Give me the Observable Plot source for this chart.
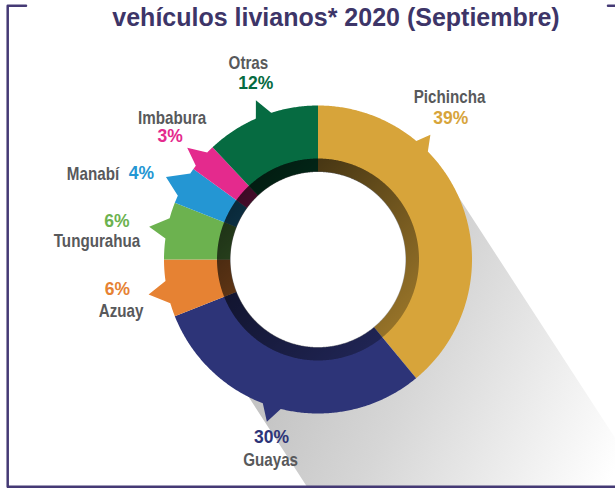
<!DOCTYPE html>
<html><head><meta charset="utf-8">
<script src="https://cdn.jsdelivr.net/npm/d3@7"></script>
<script src="https://cdn.jsdelivr.net/npm/@observablehq/plot@0.6"></script>
<style>html,body{margin:0;padding:0;background:#fff;} svg{display:block}</style>
</head><body><div id="chart"></div>
<script>
// ---- data ----
const provincias = ["Pichincha","Guayas","Azuay","Tungurahua","Manabí","Imbabura","Otras"];
const participacion = [39, 30, 6, 6, 4, 3, 12];
const etiquetasPct = participacion.map(v => v + "%");
const titulo = "vehículos livianos* 2020 (Septiembre)";

// ---- styles / layout ----
const palette = ["#d7a43a","#2d3478","#e68233","#6cb24f","#2496d3","#e42a8d","#066b41"];
const W = 615, H = 488, CX = 317.5, CY = 259, R_OUT = 154, R_IN = 88, R_RING = 101;
const FRAME = "#453a75", GRAY = "#58595b";
// callout pointers (angles clockwise from top, degrees)
const callouts = {
  "Pichincha": {base:[39.7,45.5], tip:[42,168]},
  "Guayas": {base:[194,201], tip:[197.5,170]},
  "Azuay": {base:[253.5,262], tip:[258.3,173]},
  "Tungurahua": {base:[277.8,285.5], tip:[281,172]},
  "Manabí": {base:[294.5,304], tip:[298.5,173]},
  "Imbabura": {base:[307.5,314], tip:[310.5,172]},
  "Otras": {base:[336.2,342.3], tip:[338.7,171]}
};
// label placement (polar: angle, radius) for name and percent
const labelPos = {
  "Pichincha": {name:[39.0,209,"middle"], pct:[43.2,194,"middle"]},
  "Guayas": {name:[193.3,206,"middle"], pct:[194.7,183.5,"middle"]},
  "Azuay": {name:[255.35,203.6,"middle"], pct:[261.6,202.7,"middle"]},
  "Tungurahua": {name:[274.8,221.8,"middle"], pct:[280.8,204.7,"middle"]},
  "Manabí": {name:[293.3,216.5,"end"], pct:[294.4,207.8,"start"]},
  "Imbabura": {name:[314.2,203.5,"middle"], pct:[309.8,192.3,"middle"]},
  "Otras": {name:[340.5,208.5,"middle"], pct:[340.6,187,"middle"]}
};

const rad = d => d * Math.PI / 180;
const P = (a, r) => ({x: CX + r * Math.sin(rad(a)), y: CY - r * Math.cos(rad(a))});
function arc(r, a0, a1) {
  const n = Math.max(2, Math.ceil(Math.abs(a1 - a0) / 0.5));
  return d3.range(n + 1).map(i => P(a0 + (a1 - a0) * i / n, r));
}

// segments from data
let acc = 0;
const segs = provincias.map((p, i) => {
  const a0 = acc * 3.6; acc += participacion[i]; const a1 = acc * 3.6;
  return {p, i, a0, a1};
});
function poly(s) {
  const c = callouts[s.p];
  return [
    ...arc(R_OUT, s.a0, c.base[0]),
    P(c.tip[0], c.tip[1]),
    ...arc(R_OUT, c.base[1], s.a1),
    ...arc(R_IN, s.a1, s.a0)
  ];
}
const ringPts = [...arc(R_RING, 0, 360), ...arc(R_IN - 0.5, 360, 0)];

// long shadow
const SA = 147, NA = SA - 90, L = 460;
const dvec = P(SA, 1); const dx = dvec.x - CX, dy = dvec.y - CY;
const sStart = P(NA, 152), sEnd = P(NA + 180, 133);
const shadowPts = [
  sStart,
  ...arc(125, NA, NA + 180),
  sEnd,
  {x: sEnd.x + L * dx, y: sEnd.y + L * dy},
  {x: sStart.x + L * dx, y: sStart.y + L * dy}
];

const names = segs.map(s => { const l = labelPos[s.p].name; const q = P(l[0], l[1]); return {x:q.x, y:q.y, t:s.p, a:l[2]}; });
const pcts = segs.map(s => { const l = labelPos[s.p].pct; const q = P(l[0], l[1]); return {x:q.x, y:q.y, t:etiquetasPct[s.i], a:l[2], c:palette[s.i]}; });

const frameA = [{x:25.5,y:5.3},{x:7.2,y:5.3},{x:7.2,y:486.3},{x:W,y:486.3}];
const frameB = [{x:607.5,y:5.3},{x:W,y:5.3}];

const SANS = "'Liberation Sans', Arial, Helvetica, sans-serif";

const marks = [
  Plot.line(shadowPts, {x:"x", y:"y", fill:"url(#sombra)", stroke:"none"}),
  ...segs.map(s => Plot.line(poly(s), {x:"x", y:"y", fill: palette[s.i], stroke:"none"})),
  Plot.line(ringPts, {x:"x", y:"y", fill:"url(#anillo)", stroke:"none"}),
  ...["middle","start","end"].map(a => Plot.text(names.filter(d => d.a === a), {x:"x", y:"y", text:"t", fill: GRAY, fontSize:18.5, fontWeight:"bold", fontFamily: SANS, textAnchor:a, lineAnchor:"middle", className:"nombre"})),
  ...["middle","start","end"].map(a => Plot.text(pcts.filter(d => d.a === a), {x:"x", y:"y", text:"t", fill:"c", fontSize:17.5, fontWeight:"bold", fontFamily: SANS, textAnchor:a, lineAnchor:"middle"})),
  Plot.text([titulo], {frameAnchor:"top", dx: 28, dy: 8, text: d => d, fill:"#3d3568", fontSize:25, fontWeight:"bold", fontFamily: SANS, lineAnchor:"top"}),
  Plot.line(frameA, {x:"x", y:"y", stroke: FRAME, strokeWidth:2.5}),
  Plot.line(frameB, {x:"x", y:"y", stroke: FRAME, strokeWidth:2.5})
];

const svg = Plot.plot({
  width: W, height: H, margin: 0,
  x: {domain:[0, W], range:[0, W], axis: null},
  y: {domain:[0, H], range:[0, H], axis: null},
  color: {type: "identity"},
  marks
});
const defs = document.createElementNS("http://www.w3.org/2000/svg", "defs");
defs.innerHTML = `
<linearGradient id="sombra" gradientUnits="userSpaceOnUse" x1="300" y1="330" x2="610" y2="480">
  <stop offset="0" stop-color="#c4c4c4"/><stop offset="0.35" stop-color="#d6d6d6"/><stop offset="1" stop-color="#ffffff"/>
</linearGradient>
<linearGradient id="anillo" gradientUnits="userSpaceOnUse" x1="${CX-100}" y1="${CY-100}" x2="${CX+100}" y2="${CY+100}">
  <stop offset="0" stop-color="#000" stop-opacity="0.82"/><stop offset="1" stop-color="#000" stop-opacity="0.22"/>
</linearGradient>`;
svg.insertBefore(defs, svg.firstChild);
document.getElementById("chart").appendChild(svg);
// condense the province names (condensed bold face in the original)
svg.querySelectorAll(".nombre text").forEach(t => {
  const len = t.getComputedTextLength();
  t.setAttribute("textLength", (len * 0.82).toFixed(1));
  t.setAttribute("lengthAdjust", "spacingAndGlyphs");
});
</script>
</body></html>
